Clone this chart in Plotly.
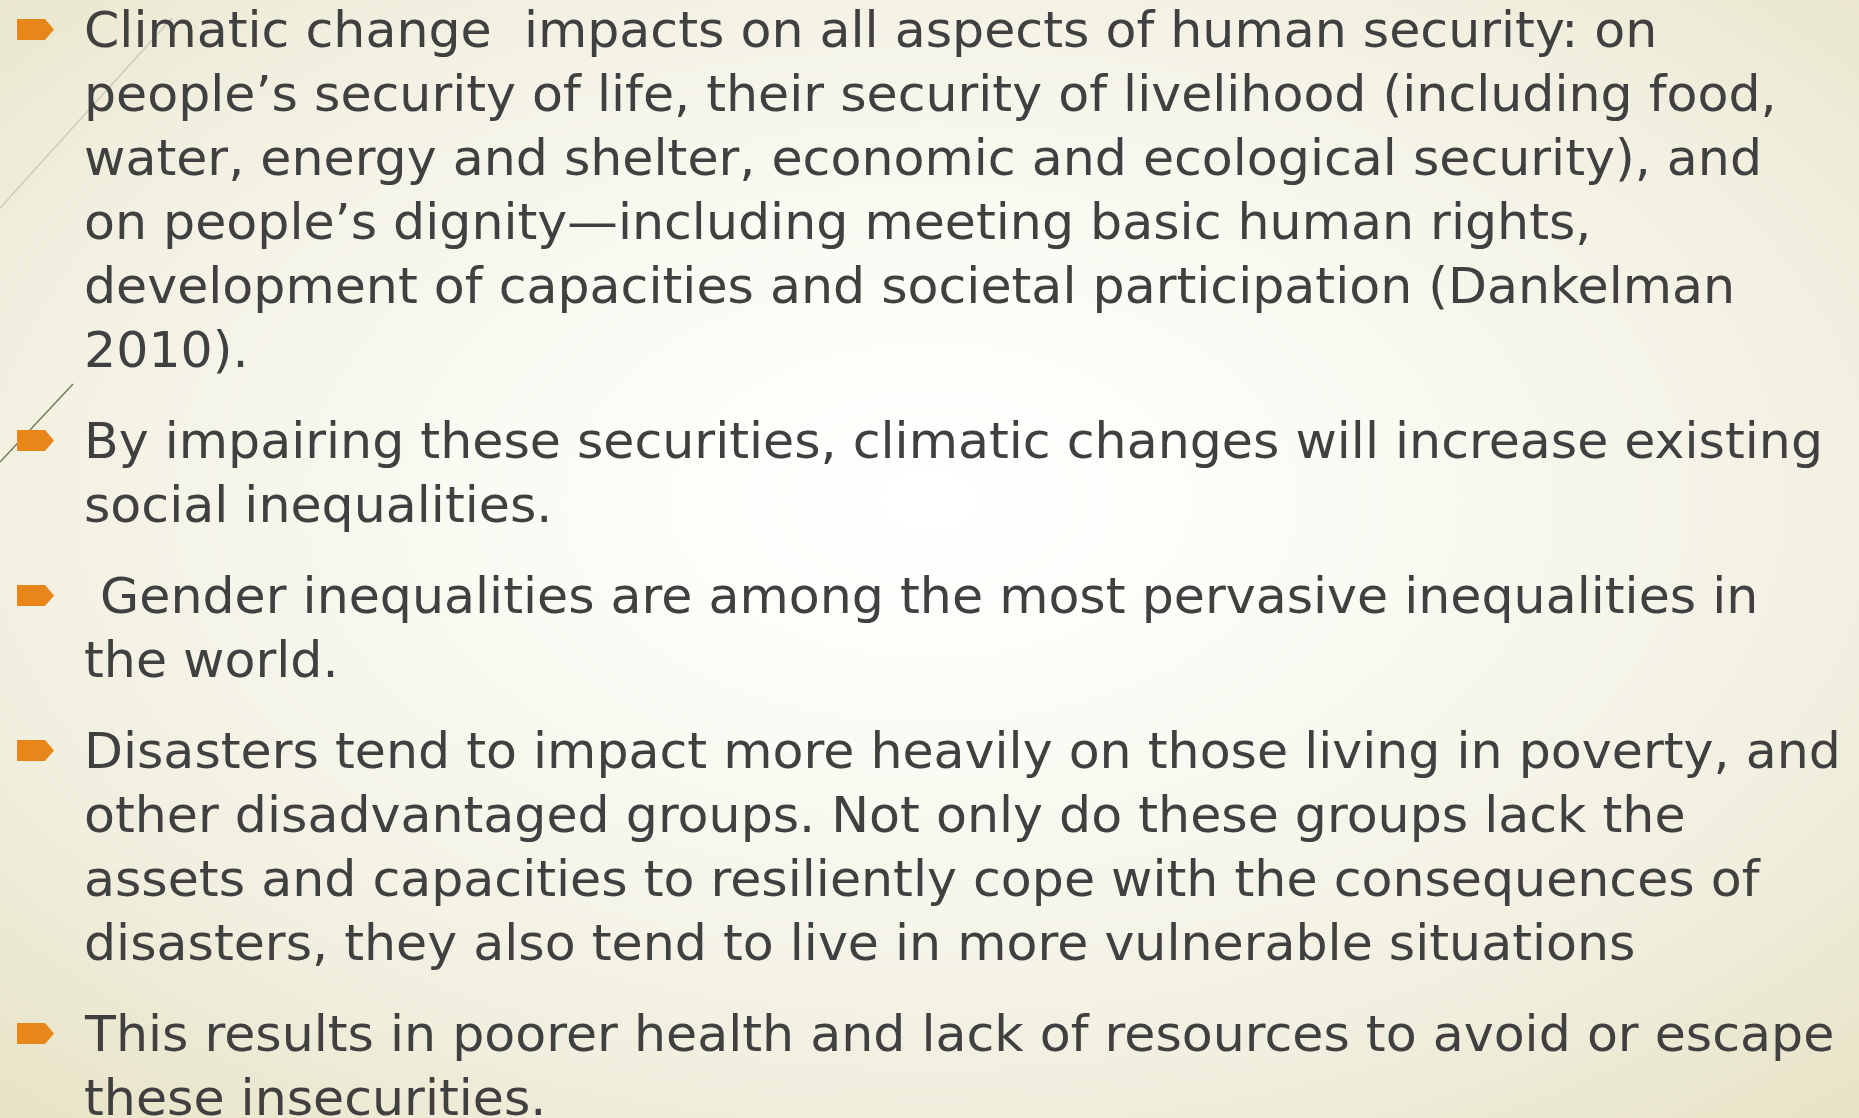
import numpy as np
import plotly.graph_objects as go

# ---- slide content (text lines as they wrap in the reference) ----
para1 = [
    "Climatic change\u00a0 impacts on all aspects of human security: on",
    "people\u2019s security of life, their security of livelihood (including food,",
    "water, energy and shelter, economic and ecological security), and",
    "on people\u2019s dignity\u2014including meeting basic human rights,",
    "development of capacities and societal participation (Dankelman",
    "2010).",
]
para2 = [
    "By impairing these securities, climatic changes will increase existing",
    "social inequalities.",
]
para3 = [
    "\u00a0Gender inequalities are among the most pervasive inequalities in",
    "the world.",
]
para4 = [
    "Disasters tend to impact more heavily on those living in poverty, and",
    "other disadvantaged groups. Not only do these groups lack the",
    "assets and capacities to resiliently cope with the consequences of",
    "disasters, they also tend to live in more vulnerable situations",
]
para5 = [
    "This results in poorer health and lack of resources to avoid or escape",
    "these insecurities.",
]
paragraphs = [para1, para2, para3, para4, para5]

# ---- styling / layout constants ----
W, H = 1859, 1118
TEXT_X = 82
FIRST_Y = 29.6
LINE_H = 64
PARA_GAP = 91
FONT = "Century Gothic, DejaVu Sans, sans-serif"
FONT_SIZE = 50.6
TEXT_COLOR = "#404040"
BULLET_COLOR = "#E8861A"

fig = go.Figure()

# radial gradient background
gx = np.linspace(0, W, 80)
gy = np.linspace(0, H, 50)
XX, YY = np.meshgrid(gx, gy)
cx, cy = 930, 500
dist = np.sqrt(((XX - cx) / W) ** 2 + ((YY - cy) / H) ** 2)
dist = dist / dist.max()
fig.add_trace(go.Heatmap(
    x=gx, y=gy, z=dist, zsmooth="best", showscale=False, hoverinfo="skip",
    colorscale=[[0, "#FFFFFF"], [0.3, "#FBFBF5"], [0.7, "#F1EFDF"], [1, "#E7E3C6"]],
    zmin=0, zmax=1,
))

shapes = [
    dict(type="line", x0=0, y0=208, x1=172, y1=18,
         line=dict(color="#CBCBB9", width=1.5), layer="above"),
    dict(type="line", x0=0, y0=462, x1=73, y1=384,
         line=dict(color="#6E7F55", width=1.5), layer="above"),
]
annotations = []

y = FIRST_Y
for p_i, para in enumerate(paragraphs):
    if p_i > 0:
        y += PARA_GAP - LINE_H
    c = y
    shapes.append(dict(
        type="path",
        path=f"M 17 {c-10.5} L 45 {c-10.5} L 54 {c} L 45 {c+10.5} L 17 {c+10.5} Z",
        fillcolor=BULLET_COLOR, line=dict(width=0), layer="above",
    ))
    for line in para:
        annotations.append(dict(
            x=TEXT_X, y=y, xref="x", yref="y", text=line, showarrow=False,
            xanchor="left", yanchor="middle",
            font=dict(family=FONT, size=FONT_SIZE, color=TEXT_COLOR),
        ))
        y += LINE_H

fig.update_layout(
    width=W, height=H,
    margin=dict(l=0, r=0, t=0, b=0),
    paper_bgcolor="#FFFFFF", plot_bgcolor="#FFFFFF",
    xaxis=dict(range=[0, W], visible=False, fixedrange=True),
    yaxis=dict(range=[H, 0], visible=False, fixedrange=True),
    shapes=shapes, annotations=annotations, showlegend=False,
)

fig.write_html(
    "out.html",
    config={"displayModeBar": False},
    post_script="document.body.style.margin='0';document.body.style.overflow='hidden';",
)
